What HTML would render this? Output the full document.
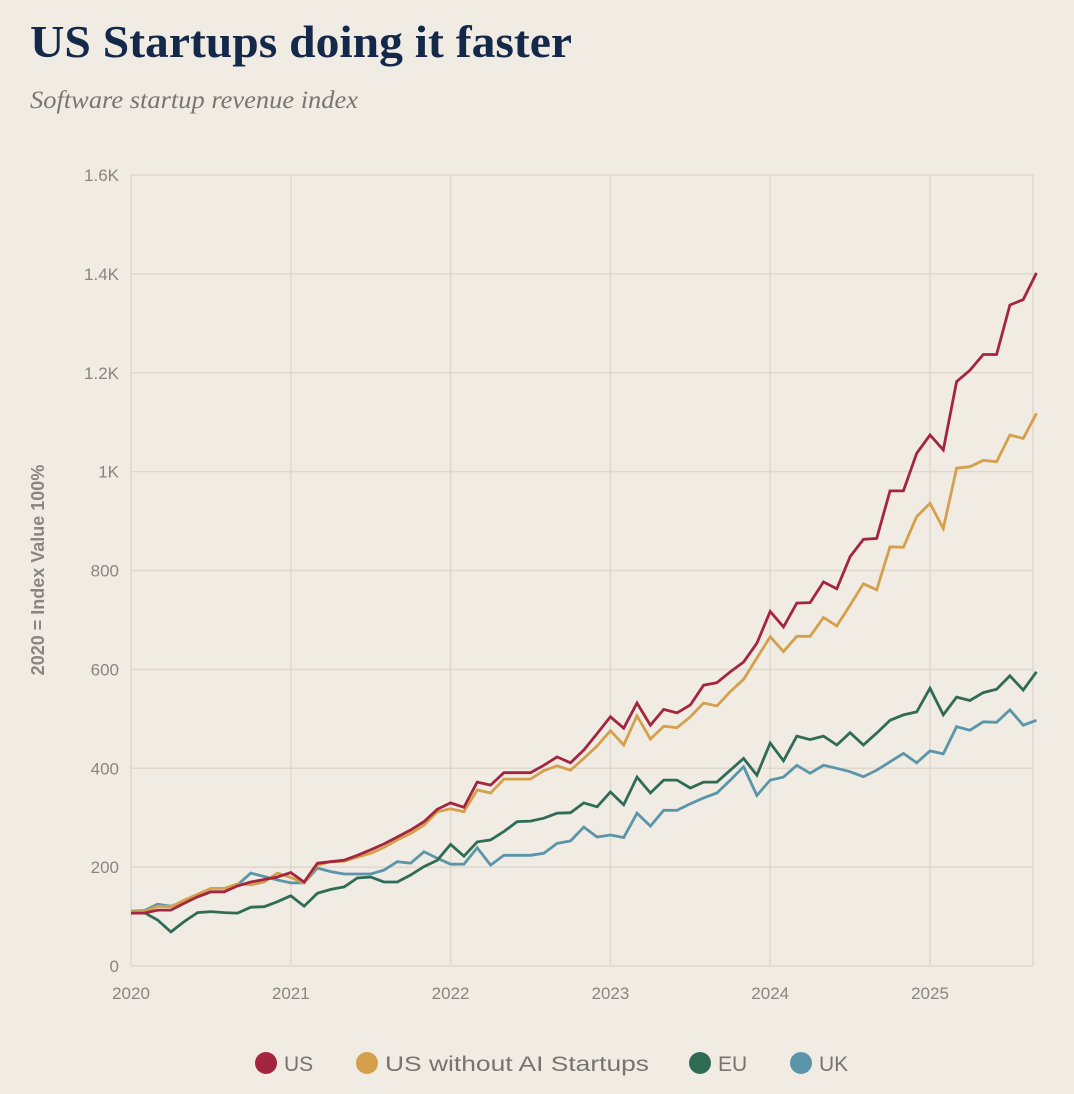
<!DOCTYPE html>
<html><head><meta charset="utf-8"><style>
html,body{margin:0;padding:0;background:#f0ebe3;}
svg{display:block;}
</style></head><body>
<svg id="chart" width="1074" height="1094" viewBox="0 0 1074 1094" xmlns="http://www.w3.org/2000/svg">
<rect x="0" y="0" width="1074" height="1094" fill="#f0ebe3"/>
<text x="30" y="57" font-family="Liberation Serif, serif" font-weight="bold" font-size="46" fill="#14284a" textLength="542" lengthAdjust="spacingAndGlyphs">US Startups doing it faster</text>
<text x="30" y="108" font-family="Liberation Serif, serif" font-style="italic" font-size="25" fill="#7a7570" textLength="328" lengthAdjust="spacingAndGlyphs">Software startup revenue index</text>
<g id="grid"></g>
<g id="axes"></g>
<g id="lines"></g>
<text transform="translate(44,570) rotate(-90)" text-anchor="middle" font-family="Liberation Sans, sans-serif" font-weight="bold" font-size="18" fill="#8a8580">2020 = Index Value 100%</text>
<g id="legend">
  <g><circle cx="266" cy="1063" r="11" fill="#a3253f"/><text x="284" y="1071" font-family="Liberation Sans, sans-serif" font-size="21" fill="#77736e">US</text></g>
  <g><circle cx="367" cy="1063" r="11" fill="#d4a04c"/><text x="385" y="1071" font-family="Liberation Sans, sans-serif" font-size="21" fill="#77736e" textLength="264" lengthAdjust="spacingAndGlyphs">US without AI Startups</text></g>
  <g><circle cx="700" cy="1063" r="11" fill="#2f6b55"/><text x="718" y="1071" font-family="Liberation Sans, sans-serif" font-size="21" fill="#77736e">EU</text></g>
  <g><circle cx="801" cy="1063" r="11" fill="#5b95aa"/><text x="819" y="1071" font-family="Liberation Sans, sans-serif" font-size="21" fill="#77736e">UK</text></g>
</g>
</svg>
<script>
const yTickValues = [0,200,400,600,800,1000,1200,1400,1600];
const yTickLabels = ["0","200","400","600","800","1K","1.2K","1.4K","1.6K"];
const xTickYears = [2020,2021,2022,2023,2024,2025];
const seriesNames = ["US","US without AI Startups","EU","UK"];
const usValues = [107,107,113,113,127,140,150,150,162,170,175,180,
189,170,208,211,214,224,235,247,261,275,292,317,
330,321,372,366,391,391,391,406,423,411,437,470,
504,481,532,487,519,512,528,568,573,595,615,653,
717,686,734,735,777,763,828,863,865,961,961,1037,
1074,1044,1182,1205,1237,1237,1337,1348,1402];
const usNoAiValues = [110,110,121,120,133,145,157,157,166,164,170,188,
179,168,204,211,212,220,228,240,255,268,285,312,
318,312,356,350,378,378,378,395,405,396,420,445,
476,447,506,459,485,482,504,532,526,555,580,623,
666,636,667,667,705,688,730,773,761,848,847,909,
936,885,1007,1010,1023,1020,1074,1067,1118];
const euValues = [108,108,93,69,90,108,110,108,107,119,120,130,
142,121,147,155,160,178,180,170,170,184,201,214,
246,222,251,255,272,292,293,299,309,310,330,322,
352,326,382,350,376,376,360,372,372,396,420,386,
451,415,465,458,465,447,472,447,471,497,508,514,
562,508,544,537,553,560,587,558,595];
const ukValues = [111,112,125,121,130,140,150,150,164,188,181,174,
168,168,198,191,186,186,186,194,211,208,231,218,
206,206,239,204,224,224,224,228,248,253,281,261,
265,260,309,283,315,315,328,340,350,376,403,345,
376,382,406,390,406,400,393,383,396,413,430,411,
435,429,484,477,494,493,518,487,497];

const NS = "http://www.w3.org/2000/svg";
const X0 = 131, X1 = 1033, Y0 = 966, Y1 = 175;
const monthPx = (930 - 131) / 60;
function xScale(m){ return X0 + m * monthPx; }
function yScale(v){ return Y0 - (v / 1600) * (Y0 - Y1); }
function mk(tag, attrs, parent){ const e = document.createElementNS(NS, tag); for (const k in attrs) e.setAttribute(k, attrs[k]); parent.appendChild(e); return e; }

const grid = document.getElementById('grid');
const axes = document.getElementById('axes');
yTickValues.forEach((v, i) => {
  const y = yScale(v);
  const gl = mk('line', {x1: X0, x2: X1, y1: y, y2: y, stroke: '#e0d8cc', 'stroke-width': 1.5}, grid);
  
  
  const t = mk('text', {x: 119, y: y + 6, 'text-anchor': 'end', 'font-family': 'Liberation Sans, sans-serif', 'font-size': 17, fill: '#8a8580'}, axes);
  t.textContent = yTickLabels[i];
  
  
});
xTickYears.forEach((yr, i) => {
  const x = xScale((yr - 2020) * 12);
  const gl = mk('line', {x1: x, x2: x, y1: Y1, y2: Y0, stroke: '#e0d8cc', 'stroke-width': 1.5}, grid);
  
  
  const t = mk('text', {x: x, y: 999, 'text-anchor': 'middle', 'font-family': 'Liberation Sans, sans-serif', 'font-size': 17, fill: '#8a8580'}, axes);
  t.textContent = String(yr);
  
  
});
const rv = mk('line', {x1: X1, x2: X1, y1: Y1, y2: Y0, stroke: '#e0d8cc', 'stroke-width': 1.5}, grid);



const lines = document.getElementById('lines');
const seriesList = [
  {vals: ukValues, color: '#5b95aa', name: 'line-uk'},
  {vals: euValues, color: '#2f6b55', name: 'line-eu'},
  {vals: usNoAiValues, color: '#d4a04c', name: 'line-us-without-ai'},
  {vals: usValues, color: '#a3253f', name: 'line-us'}
];
seriesList.forEach(s => {
  const d = s.vals.map((v, i) => (i ? 'L' : 'M') + xScale(i).toFixed(1) + ',' + yScale(v).toFixed(1)).join(' ');
  const p = mk('path', {d: d, fill: 'none', stroke: s.color, 'stroke-width': 2.8, 'stroke-linejoin': 'miter'}, lines);
  
  
});
</script>
</body></html>
